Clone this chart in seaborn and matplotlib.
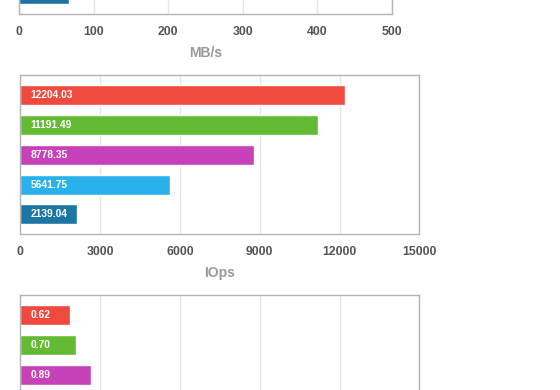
import numpy as np
import matplotlib.pyplot as plt
import seaborn as sns

runs = ['run 1', 'run 2', 'run 3', 'run 4', 'run 5']
colors = ['#f04a3f', '#63bb34', '#c741b8', '#2ab1eb', '#1c75a3']

# only the bars that fall inside the crop are known
mbps = [np.nan, np.nan, np.nan, np.nan, 66.8]
iops = [12204.03, 11191.49, 8778.35, 5641.75, 2139.04]
latency = [0.62, 0.70, 0.89, np.nan, np.nan]

mbps_ticks = [0, 100, 200, 300, 400, 500]
iops_ticks = [0, 3000, 6000, 9000, 12000, 15000]
latency_ticks = [0, 1, 2, 3, 4, 5]

sns.set_style('white')
plt.rcParams['font.family'] = ['Liberation Sans', 'DejaVu Sans']
plt.rcParams['font.weight'] = 'bold'

W, H = 560, 390
fig = plt.figure(figsize=(W / 100, H / 100), dpi=100)


def px_axes(left, top, width, height):
    return fig.add_axes([left / W, (H - top - height) / H, width / W, height / H])


def draw_panel(ax, values, ticks, xlabel, fmt):
    sns.barplot(x=values, y=runs, hue=runs, order=runs, hue_order=runs,
                palette=colors, legend=False, orient='h', width=0.667,
                saturation=1, errorbar=None, ax=ax)
    for i, v in enumerate(values):
        if not np.isnan(v):
            ax.annotate(fmt.format(v), xy=(0, i), xytext=(7.5, 0),
                        textcoords='offset points', ha='left', va='center',
                        color='white', fontsize=7.4, fontweight='bold')
    ax.set_xlim(ticks[0], ticks[-1])
    ax.set_xticks(ticks)
    ax.set_ylim(4.667, -0.667)
    ax.set_yticks([])
    ax.set_ylabel('')
    ax.set_xlabel(xlabel, color='#999999', fontsize=10, fontweight='bold', labelpad=6)
    ax.tick_params(axis='x', length=0, pad=8.5, labelsize=8.8, labelcolor='#555555')
    ax.grid(axis='x', color='#e6e6e6', lw=1)
    ax.set_axisbelow(True)
    for s in ax.spines.values():
        s.set_color('#b3b3b3')
        s.set_linewidth(1)


ax_top = px_axes(19, 14.3 - 159, 372.5, 159)
draw_panel(ax_top, mbps, mbps_ticks, 'MB/s', '{:.2f}')

ax_mid = px_axes(20.3, 75.3, 399, 159)
draw_panel(ax_mid, iops, iops_ticks, 'IOps', '{:.2f}')

ax_bot = px_axes(20.3, 295.3, 399, 159)
draw_panel(ax_bot, latency, latency_ticks, 'ms', '{:.2f}')

fig.savefig('out.png', dpi=100)
